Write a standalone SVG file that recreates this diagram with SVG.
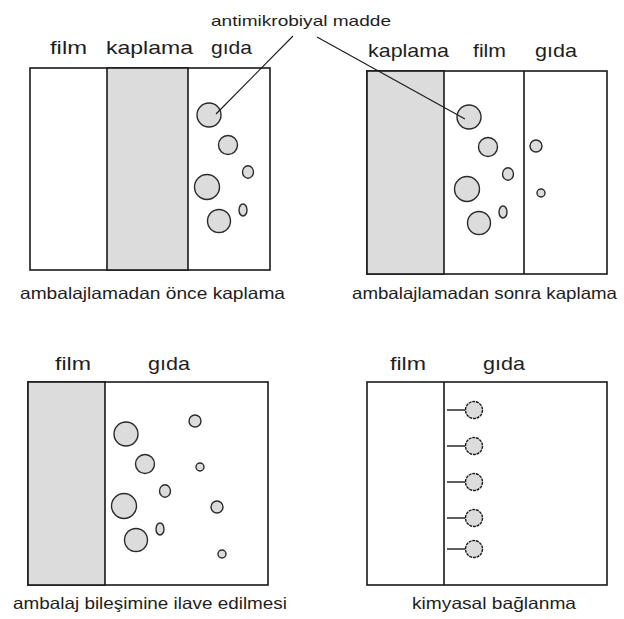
<svg xmlns="http://www.w3.org/2000/svg" xmlns:xlink="http://www.w3.org/1999/xlink" width="624" height="619" viewBox="0 0 624 619">
  <style>
    .box { fill: #ffffff; stroke: #1a1a1a; stroke-width: 1.6; }
    .coat { fill: #dcdcdc; stroke: #1a1a1a; stroke-width: 1.6; }
    .div { stroke: #1a1a1a; stroke-width: 1.6; }
    .agent { fill: #dcdcdc; stroke: #2a2a2a; stroke-width: 1.4; }
    .bound { fill: #dcdcdc; stroke: #1a1a1a; stroke-width: 1.4; stroke-dasharray: 3 0.8; }
    .bond { stroke: #1a1a1a; stroke-width: 1.4; }
    .lead { stroke: #1a1a1a; stroke-width: 1.1; fill: none; }
    .hdr { font-family: "Liberation Sans", Arial, sans-serif; font-size: 19px; fill: #1e1e1e; }
    .cap { font-family: "Liberation Sans", Arial, sans-serif; font-size: 16.5px; fill: #1e1e1e; }
    .lbl { font-family: "Liberation Sans", Arial, sans-serif; font-size: 15px; fill: #1e1e1e; }
  </style>
  <defs>
    <!-- cluster of antimicrobial particles, drawn relative to a layer edge -->
    <g id="cluster">
      <circle class="agent" cx="22" cy="47" r="12"/>
      <circle class="agent" cx="41" cy="77" r="9.5"/>
      <ellipse class="agent" cx="61" cy="104" rx="5.5" ry="6.2"/>
      <circle class="agent" cx="20" cy="119" r="12.5"/>
      <ellipse class="agent" cx="56" cy="142" rx="4" ry="6"/>
      <circle class="agent" cx="32" cy="153" r="11.5"/>
    </g>
  </defs>

  <!-- label for the particles -->
  <g id="label-agent">
    <text class="lbl" x="211" y="26" textLength="180" lengthAdjust="spacingAndGlyphs">antimikrobiyal madde</text>
  </g>

  <!-- coating before packaging -->
  <g id="panel-coat-before">
    <text class="hdr" x="50" y="54" textLength="37" lengthAdjust="spacingAndGlyphs">film</text>
    <text class="hdr" x="106" y="54" textLength="87" lengthAdjust="spacingAndGlyphs">kaplama</text>
    <text class="hdr" x="211" y="54" textLength="41" lengthAdjust="spacingAndGlyphs">gıda</text>
    <rect class="box" x="30" y="68" width="240" height="202"/>
    <rect class="coat" x="107" y="68" width="81" height="202"/>
    <use xlink:href="#cluster" href="#cluster" transform="translate(187,68)"/>
    <text class="cap" x="20" y="299" textLength="265" lengthAdjust="spacingAndGlyphs">ambalajlamadan önce kaplama</text>
  </g>

  <!-- coating after packaging -->
  <g id="panel-coat-after">
    <text class="hdr" x="368" y="57" textLength="81" lengthAdjust="spacingAndGlyphs">kaplama</text>
    <text class="hdr" x="473" y="57" textLength="33" lengthAdjust="spacingAndGlyphs">film</text>
    <text class="hdr" x="535" y="57" textLength="42" lengthAdjust="spacingAndGlyphs">gıda</text>
    <rect class="box" x="367" y="71" width="240" height="203"/>
    <rect class="coat" x="367" y="71" width="77" height="203"/>
    <line class="div" x1="524" y1="71" x2="524" y2="274"/>
    <use xlink:href="#cluster" href="#cluster" transform="translate(447,70)"/>
    <circle class="agent" cx="536" cy="146" r="6"/>
    <circle class="agent" cx="541" cy="193" r="4"/>
    <text class="cap" x="352" y="299" textLength="265" lengthAdjust="spacingAndGlyphs">ambalajlamadan sonra kaplama</text>
  </g>

  <!-- added to the packaging material -->
  <g id="panel-blended">
    <text class="hdr" x="55" y="370" textLength="36" lengthAdjust="spacingAndGlyphs">film</text>
    <text class="hdr" x="148" y="370" textLength="42" lengthAdjust="spacingAndGlyphs">gıda</text>
    <rect class="box" x="28" y="382" width="240" height="203"/>
    <rect class="coat" x="28" y="382" width="77" height="203"/>
    <use xlink:href="#cluster" href="#cluster" transform="translate(104,387)"/>
    <circle class="agent" cx="195" cy="421" r="6"/>
    <circle class="agent" cx="200" cy="467" r="4"/>
    <circle class="agent" cx="217" cy="507" r="6"/>
    <circle class="agent" cx="222" cy="554" r="4"/>
    <text class="cap" x="13" y="609" textLength="274" lengthAdjust="spacingAndGlyphs">ambalaj bileşimine ilave edilmesi</text>
  </g>

  <!-- chemical binding -->
  <g id="panel-bound">
    <text class="hdr" x="390" y="370" textLength="36" lengthAdjust="spacingAndGlyphs">film</text>
    <text class="hdr" x="483" y="370" textLength="42" lengthAdjust="spacingAndGlyphs">gıda</text>
    <rect class="box" x="367" y="382" width="240" height="203"/>
    <line class="div" x1="444" y1="382" x2="444" y2="585"/>
    <line class="bond" x1="447" y1="410" x2="465" y2="410"/>
    <line class="bond" x1="447" y1="446" x2="465" y2="446"/>
    <line class="bond" x1="447" y1="482" x2="465" y2="482"/>
    <line class="bond" x1="447" y1="518" x2="465" y2="518"/>
    <line class="bond" x1="447" y1="549" x2="465" y2="549"/>
    <circle class="bound" cx="474" cy="410" r="8.5"/>
    <circle class="bound" cx="474" cy="446" r="8.5"/>
    <circle class="bound" cx="474" cy="482" r="8.5"/>
    <circle class="bound" cx="474" cy="518" r="8.5"/>
    <circle class="bound" cx="474" cy="549" r="8.5"/>
    <text class="cap" x="412" y="609" textLength="164" lengthAdjust="spacingAndGlyphs">kimyasal bağlanma</text>
  </g>

  <!-- leader lines from the label -->
  <g id="connectors">
    <line class="lead" x1="293" y1="36" x2="216" y2="114"/>
    <line class="lead" x1="317" y1="37" x2="465" y2="119"/>
  </g>
</svg>
